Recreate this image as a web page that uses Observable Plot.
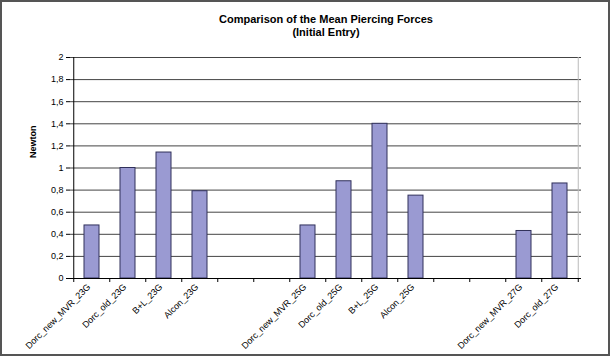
<!DOCTYPE html>
<html>
<head>
<meta charset="utf-8">
<script src="https://cdn.jsdelivr.net/npm/d3@7"></script>
<script src="https://cdn.jsdelivr.net/npm/@observablehq/plot@0.6"></script>
<style>
  html, body { margin: 0; padding: 0; background: #fff; }
  #chart svg { outline: 2px solid #555; outline-offset: -2px; display: block; }
</style>
</head>
<body>
<div id="chart"></div>
<script>
const categories = [
  "Dorc_new_MVR_23G", "Dorc_old_23G", "B+L_23G", "Alcon_23G", "_gap1", "_gap2",
  "Dorc_new_MVR_25G", "Dorc_old_25G", "B+L_25G", "Alcon_25G", "_gap3", "_gap4",
  "Dorc_new_MVR_27G", "Dorc_old_27G"
];
const barCategories = [
  "Dorc_new_MVR_23G", "Dorc_old_23G", "B+L_23G", "Alcon_23G",
  "Dorc_new_MVR_25G", "Dorc_old_25G", "B+L_25G", "Alcon_25G",
  "Dorc_new_MVR_27G", "Dorc_old_27G"
];
const values = [0.48, 1.0, 1.14, 0.79, 0.48, 0.88, 1.4, 0.75, 0.43, 0.86];
const yTicks = [0, 0.2, 0.4, 0.6, 0.8, 1, 1.2, 1.4, 1.6, 1.8, 2];
const title1 = "Comparison of the Mean Piercing Forces";
const title2 = "(Initial Entry)";
const yLabel = "Newton";

const data = barCategories.map((c, i) => ({category: c, value: values[i]}));

const W = 610, H = 356, mL = 70, mR = 29, mT = 57, mB = 78;
const step = (W - mL - mR) / categories.length;
const fmt = d => String(d).replace(".", ",");
const font = "Arial, 'Liberation Sans', sans-serif";

const chart = Plot.plot({
  width: W, height: H,
  marginLeft: mL, marginRight: mR, marginTop: mT, marginBottom: mB,
  style: {fontFamily: font, fontSize: "9px", color: "#000", background: "#fff"},
  x: {domain: categories, paddingInner: 0.59, paddingOuter: 0.295, label: null},
  y: {domain: [0, 2], label: null},
  marks: [
    Plot.ruleY(yTicks.filter(d => d > 0), {stroke: "#444", strokeWidth: 1}),
    Plot.ruleX([categories[categories.length - 1]], {stroke: "#bbb", dx: step / 2, y1: 0, y2: 2}),
    Plot.barY(data, {x: "category", y: "value", fill: "#9a9ad2", stroke: "#30305a", strokeWidth: 1}),
    Plot.ruleY([0], {stroke: "#000"}),
    Plot.ruleX([categories[0]], {stroke: "#000", dx: -step / 2, y1: 0, y2: 2}),
    Plot.axisY({ticks: yTicks, tickFormat: fmt, tickSize: 4, tickPadding: 3, stroke: "#000", label: null}),
    Plot.axisX({tickSize: 4, dx: -step / 2, tickFormat: () => "", label: null}),
    Plot.axisX({ticks: [categories[categories.length - 1]], tickSize: 4, dx: step / 2, tickFormat: () => "", label: null}),
    Plot.axisX({tickSize: 0, tickPadding: 7, tickRotate: -45, dx: -3,
      tickFormat: d => d.startsWith("_") ? "" : d, label: null}),
    Plot.text([title1], {frameAnchor: "top", dy: -42, text: d => d, fontWeight: "bold", fontSize: 11}),
    Plot.text([title2], {frameAnchor: "top", dy: -29, text: d => d, fontWeight: "bold", fontSize: 11}),
    Plot.text([yLabel], {frameAnchor: "left", dx: -37, dy: -10, rotate: -90, text: d => d, fontWeight: "bold", fontSize: 9})
  ]
});
document.getElementById("chart").append(chart);
</script>
</body>
</html>
